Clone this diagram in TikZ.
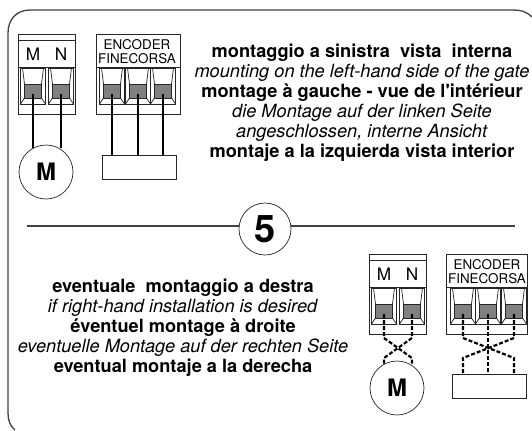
\documentclass[tikz,border=0pt]{standalone}
\usepackage{fontspec}
\setmainfont{TeX Gyre Heros}
\definecolor{termgrey}{gray}{0.5}
\tikzset{
  frameline/.style={draw=black!75,line width=0.65pt},
  thinline/.style={draw=black!85,line width=0.35pt},
  wire/.style={draw=black,line width=1.1pt},
  dashwire/.style={draw=black,line width=1.1pt,dash pattern=on 2pt off 1pt},
  termtext/.style={inner sep=0pt,font=\fontsize{8.6}{10}\selectfont},
  enctext/.style={inner sep=0pt,font=\fontsize{6.7}{7}\selectfont},
  motorcircle/.style={thinline,circle,minimum size=27pt,inner sep=0pt,font=\fontsize{12}{12}\selectfont\bfseries},
  sensorbox/.style={thinline,rectangle,minimum width=37pt,minimum height=12pt,inner sep=0pt},
  infotext/.style={align=center,inner sep=0pt,font=\fontsize{9.1}{10}\selectfont}
}
% one terminal: x of the wire, name of the wire point
\def\cell(#1,#2){
  \draw[thinline] (#1-12.5,68) rectangle (#1+12.5,104);
  \draw[thinline,fill=termgrey] (#1-8.5,84) rectangle (#1+8.5,98);
  \draw[thinline] (#1-10.5,68) -- (#1-8.5,84);
  \draw[thinline] (#1+10.5,68) -- (#1+8.5,84);
  \draw[thinline] (#1-8.5,98) -- (#1-12.5,104);
  \draw[thinline] (#1+8.5,98) -- (#1+12.5,104);
  \coordinate (#2) at (#1,94);
}
\begin{document}
\begin{tikzpicture}[x=0.5pt,y=-0.5pt]
  \useasboundingbox (0,0) rectangle (532,430);
  \draw[frameline] (532,17) .. controls (526,11) and (520,10) .. (513,10)
    -- (30,10) .. controls (16,10) and (8,20) .. (8,33)
    -- (8,413) .. controls (8,420) and (10,426) .. (15,430);
  % left side
  \draw[thinline] (18,34) rectangle (75,114);
  \draw[thinline] (18,40) -- (75,40);
  \draw[thinline] (18,67) -- (75,67);
  \node[termtext] (lblm) at (33,54) {M};
  \node[termtext] (lbln) at (61,54) {N};
  \cell(33,ma)
  \cell(61,mb)
  \node[motorcircle] (motor) at (46,172) {M};
  \draw[wire] (ma) -- (ma |- motor.119);
  \draw[wire] (mb) -- (mb |- motor.61);
  \draw[thinline] (96,34) rectangle (180,114);
  \draw[thinline] (96,67) -- (180,67);
  \node[enctext] (enc) at (137,45) {ENCODER};
  \node[enctext] (fine) at (137,59) {FINECORSA};
  \cell(112,ea)
  \cell(138,eb)
  \cell(163,ec)
  \node[sensorbox] (box) at (139,167) {};
  \foreach \w in {ea,eb,ec} \draw[wire] (\w) -- (\w |- box.north);
  % right side
  \begin{scope}[shift={(351,220)}]
    \draw[thinline] (18,34) rectangle (75,114);
    \draw[thinline] (18,40) -- (75,40);
    \draw[thinline] (18,67) -- (75,67);
    \node[termtext] (rlblm) at (33,54) {M};
    \node[termtext] (rlbln) at (61,54) {N};
    \cell(33,rma)
    \cell(61,rmb)
    \node[motorcircle] (rmotor) at (46,168) {M};
    \coordinate (rtop) at (0,118);
    \coordinate (rlow) at (0,138);
    \draw[dashwire] (rma) -- (rma |- rtop) -- (rmb |- rlow) -- (rmb |- rmotor.61);
    \draw[dashwire] (rmb) -- (rmb |- rtop) -- (rma |- rlow) -- (rma |- rmotor.119);
    \draw[thinline] (95,34) rectangle (176,114);
    \draw[thinline] (95,67) -- (176,67);
    \node[enctext] (renc) at (136,45) {ENCODER};
    \node[enctext] (rfine) at (136,59) {FINECORSA};
    \cell(112,rea)
    \cell(137,reb)
    \cell(163,rec)
    \node[sensorbox] (rbox) at (138,166) {};
    \draw[dashwire] (rea) -- (rea |- rtop) -- (rec |- rlow) -- (rec |- rbox.north);
    \draw[dashwire] (rec) -- (rec |- rtop) -- (rea |- rlow) -- (rea |- rbox.north);
    \draw[dashwire] (reb) -- (reb |- rbox.north);
  \end{scope}
  % middle line
  \node[thinline,circle,minimum size=26pt,inner sep=0pt,font=\fontsize{19}{19}\selectfont\bfseries] (num) at (265,229) {5};
  \coordinate (lineleft) at (27,226);
  \coordinate (lineright) at (515,226);
  \draw[frameline] (lineleft) -- (num.west |- lineleft);
  \draw[frameline] (num.east |- lineright) -- (lineright);
  % texts
  \node[infotext] (toptext) at (362,103) {\textbf{montaggio a sinistra\ \ vista\ \ interna}\\
    \textit{mounting on the left-hand side of the gate}\\
    \textbf{montage à gauche - vue de l\textquotesingle intérieur}\\
    \textit{die Montage auf der linken Seite}\\
    \textit{angeschlossen, interne Ansicht}\\
    \textbf{montaje a la izquierda vista interior}};
  \node[infotext] (lowtext) at (183,328) {\textbf{eventuale\ \ montaggio a destra}\\
    \textit{if right-hand installation is desired}\\
    \textbf{éventuel montage à droite}\\
    \textit{eventuelle Montage auf der rechten Seite}\\
    \textbf{eventual montaje a la derecha}};
\end{tikzpicture}
\end{document}
